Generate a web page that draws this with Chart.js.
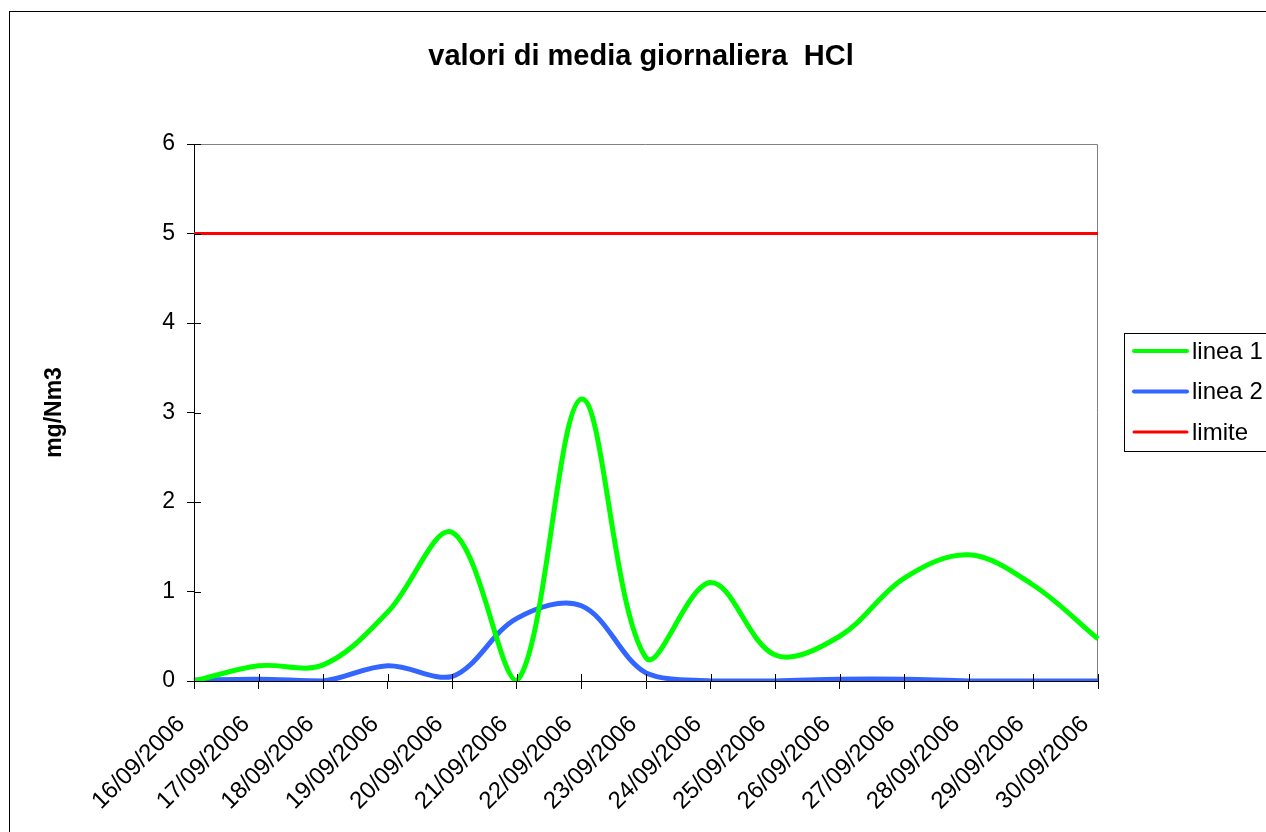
<!DOCTYPE html>
<html>
<head>
<meta charset="utf-8">
<script src="https://cdn.jsdelivr.net/npm/chart.js@4/dist/chart.umd.min.js"></script>
<style>
  html, body { margin: 0; padding: 0; background: #fff; }
  canvas { display: block; }
</style>
</head>
<body>
<canvas id="grafico-hcl" width="1266" height="832"></canvas>
<script>
const giorni = ['16/09/2006', '17/09/2006', '18/09/2006', '19/09/2006', '20/09/2006',
    '21/09/2006', '22/09/2006', '23/09/2006', '24/09/2006', '25/09/2006',
    '26/09/2006', '27/09/2006', '28/09/2006', '29/09/2006', '30/09/2006'];
const linea1 = [0.0, 0.17, 0.18, 0.77, 1.66, 0.0, 3.15, 0.26, 1.1, 0.29, 0.5, 1.15, 1.41, 1.07, 0.47];
const linea2 = [0.01, 0.02, 0.0, 0.17, 0.05, 0.7, 0.84, 0.09, 0.0, 0.0, 0.02, 0.02, 0.0, 0.0, 0.0];
const limite = [5, 5, 5, 5, 5, 5, 5, 5, 5, 5, 5, 5, 5, 5, 5];
const titolo = 'valori di media giornaliera  HCl';
const unita = 'mg/Nm3';

const FONT = "'Liberation Sans', Arial, sans-serif";

// cornice, bordo area del grafico, tacche interne, etichette date, titolo e legenda
const decorazioni = {
    id: 'decorazioni',
    beforeDraw(chart) {
        const c = chart.ctx;
        c.save();
        c.fillStyle = '#fff';
        c.fillRect(0, 0, chart.width, chart.height);
        c.strokeStyle = '#000';
        c.lineWidth = 1;
        c.strokeRect(9.5, 11.5, 1400, 1000);
        const a = chart.chartArea;
        c.strokeStyle = '#808080';
        c.beginPath();
        c.moveTo(a.left, a.top + 0.5);
        c.lineTo(a.right - 0.5, a.top + 0.5);
        c.lineTo(a.right - 0.5, a.bottom);
        c.stroke();
        c.restore();
    },
    afterDraw(chart) {
        const c = chart.ctx;
        const a = chart.chartArea;
        const x = chart.scales.x, y = chart.scales.y;
        c.save();
        c.strokeStyle = '#000';
        c.lineWidth = 1;
        c.beginPath();
        y.ticks.forEach((t, i) => {
            const py = Math.round(y.getPixelForTick(i)) + 0.5;
            c.moveTo(a.left, py);
            c.lineTo(a.left + 7, py);
        });
        x.ticks.forEach((t, i) => {
            const px = Math.round(x.getPixelForTick(i)) + 0.5;
            c.moveTo(px, a.bottom);
            c.lineTo(px, a.bottom - 7);
        });
        c.stroke();

        // etichette asse x ruotate di 45 gradi
        c.fillStyle = '#000';
        c.font = '24px ' + FONT;
        c.textAlign = 'right';
        c.textBaseline = 'alphabetic';
        x.ticks.forEach((t, i) => {
            const px = x.getPixelForTick(i);
            c.save();
            c.translate(px - 8, a.bottom + 44);
            c.rotate(-Math.PI / 4);
            c.fillText(x.getLabelForValue(t.value), 0, 0);
            c.restore();
        });

        c.font = 'bold 29px ' + FONT;
        c.textAlign = 'center';
        c.textBaseline = 'middle';
        c.fillText(titolo, 641, 57);

        // legenda
        c.strokeStyle = '#000';
        c.strokeRect(1124.5, 333.5, 200, 118);
        c.font = '24px ' + FONT;
        c.textAlign = 'left';
        c.lineCap = 'round';
        chart.data.datasets.forEach((ds, i) => {
            const ly = 351 + i * 40.5;
            c.strokeStyle = ds.borderColor;
            c.lineWidth = i < 2 ? 4 : 3;
            c.beginPath();
            c.moveTo(1134, ly);
            c.lineTo(1187, ly);
            c.stroke();
            c.fillText(ds.label, 1192, ly + 1);
        });
        c.restore();
    }
};

const ctx = document.getElementById('grafico-hcl');
new Chart(ctx, {
    type: 'line',
    data: {
        labels: giorni,
        datasets: [{
            label: 'linea 1',
            data: linea1,
            borderColor: '#00ff00',
            backgroundColor: '#00ff00',
            borderWidth: 5,
            tension: 0.35
        },
        {
            label: 'linea 2',
            data: linea2,
            borderColor: '#3366ff',
            backgroundColor: '#3366ff',
            borderWidth: 5,
            tension: 0.35
        },
        {
            label: 'limite',
            data: limite,
            borderColor: '#ff0000',
            backgroundColor: '#ff0000',
            borderWidth: 3,
            tension: 0
        }]
    },
    options: {
        responsive: false,
        animation: false,
        devicePixelRatio: 1,
        elements: { point: { radius: 0, hoverRadius: 0 } },
        layout: { padding: { left: 9, top: 144, right: 168, bottom: 0 } },
        plugins: {
            legend: { display: false },
            title: { display: false },
            tooltip: { enabled: false }
        },
        scales: {
            x: {
                offset: false,
                grid: { drawOnChartArea: false, drawTicks: true, tickLength: 8, color: '#000', offset: false },
                border: { display: true, color: '#000', width: 1 },
                ticks: { display: false, autoSkip: false },
                afterFit(scale) { scale.height = 151; }
            },
            y: {
                min: 0,
                max: 6,
                grid: { drawOnChartArea: false, drawTicks: true, tickLength: 7, color: '#000' },
                border: { display: true, color: '#000', width: 1 },
                ticks: {
                    stepSize: 1, color: '#000', padding: 12,
                    font: { family: FONT, size: 23 }
                },
                title: {
                    display: true, text: unita, color: '#000',
                    font: { family: FONT, size: 23, weight: 'bold' },
                    padding: { top: 32, bottom: 0 }
                },
                afterFit(scale) { scale.width = 185; }
            }
        }
    },
    plugins: [decorazioni]
});
</script>
</body>
</html>
